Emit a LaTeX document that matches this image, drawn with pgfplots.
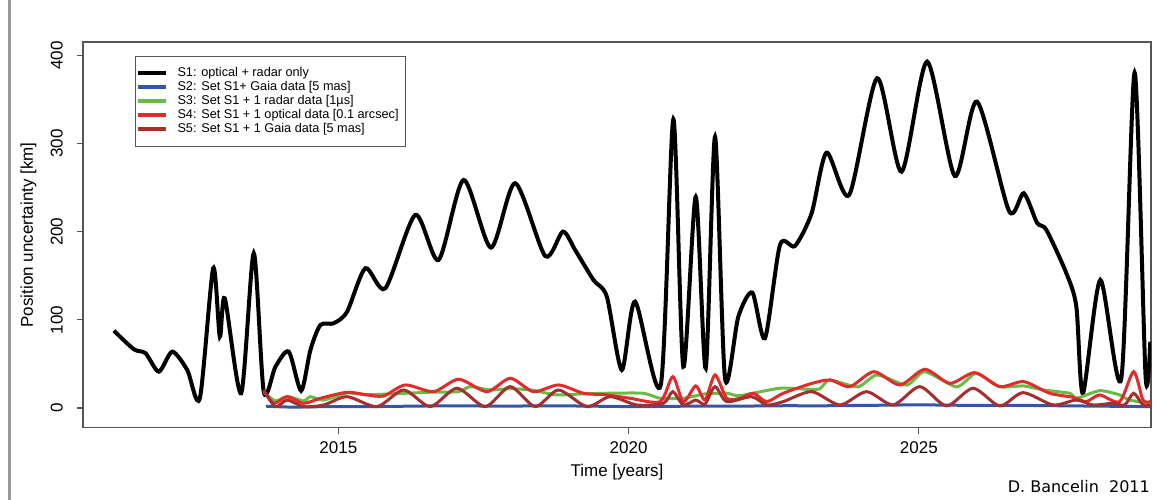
\documentclass[border=0pt]{standalone}
\usepackage{fontspec}
\setmainfont{Liberation Sans}
\newfontfamily\signfont{DejaVu Sans}
\usepackage{pgfplots}
\pgfplotsset{compat=1.18}

\definecolor{sOne}{HTML}{000000}
\definecolor{sTwo}{HTML}{3356AA}
\definecolor{sThree}{HTML}{6ABB46}
\definecolor{sFour}{HTML}{E42A2A}
\definecolor{sFive}{HTML}{A52E2E}
\definecolor{frame}{HTML}{555555}

\begin{document}
\begin{tikzpicture}
\useasboundingbox (0,0) rectangle (1157pt,500pt);
\draw[color=gray!80, line width=3.5pt] (9.5pt,0pt) -- (9.5pt,500pt);
\begin{axis}[at={(83pt,72.3pt)}, anchor=south west, scale only axis,
width=1068pt, height=385.7pt,
xmin=2010.6, xmax=2029.0, ymin=-22.4, ymax=415.4,
axis line style={frame, line width=1.3pt},
xtick={2015,2020,2025}, ytick={0,100,200,300,400},
tick align=outside, major tick length=6pt, tick style={frame, line width=1.2pt},
xtick pos=bottom, ytick pos=left,
/pgf/number format/assume math mode=true, /pgf/number format/1000 sep={},
tick label style={font=\fontsize{17}{17}\selectfont, inner sep=0pt},
xticklabel style={anchor=north}, xticklabel shift=8pt,
yticklabel style={rotate=90, anchor=south}, yticklabel shift=14pt,
xlabel={Time [years]}, ylabel={Position uncertainty [km]},
label style={font=\fontsize{17}{17}\selectfont},
xlabel style={at={(rel axis cs:0.5,0)}, anchor=center, yshift=-44.3pt},
ylabel style={at={(axis description cs:-0.051,0.5)}, anchor=center},
legend style={at={(rel axis cs:0.0487,0.9637)}, anchor=north west, draw=frame, line width=1pt,
  inner xsep=0pt, inner ysep=11pt, row sep=2pt, column sep=0pt,
  font=\fontsize{12.7}{14}\selectfont, nodes={inner ysep=0pt, inner xsep=0pt, text height=9pt, text depth=3pt}},
legend cell align=left,
legend image code/.code={\draw[#1, line width=4pt] (0pt,0pt) -- (28pt,0pt); \path (38pt,0pt);},
]
\addplot[sOne, line width=4pt, smooth, tension=0.45] coordinates {
(2011.133,87.7) (2011.477,66.6) (2011.678,62.1) (2011.907,41.2) (2012.138,63.9) (2012.396,43.1)
(2012.613,11.0) (2012.843,158.6) (2012.957,80.9) (2013.043,124.5) (2013.325,16.7) (2013.542,175.6)
(2013.714,18.5) (2013.916,46.9) (2014.145,63.9) (2014.358,19.6) (2014.518,65.8) (2014.690,94.2)
(2014.919,96.1) (2015.150,109.3) (2015.465,158.6) (2015.809,135.9) (2016.325,219.1) (2016.726,168.0)
(2017.157,258.8) (2017.628,182.0) (2018.046,255.1) (2018.563,172.5) (2018.867,200.1) (2019.079,179.3)
(2019.394,145.3) (2019.625,126.3) (2019.883,43.1) (2020.112,120.7) (2020.554,26.1) (2020.771,327.7)
(2020.943,46.9) (2021.157,239.8) (2021.329,45.1) (2021.489,307.9) (2021.661,33.7) (2021.890,103.6)
(2022.131,130.9) (2022.349,79.1) (2022.608,185.0) (2022.866,183.9) (2023.153,221.0) (2023.411,289.8)
(2023.800,241.8) (2024.282,374.2) (2024.702,268.2) (2025.143,393.1) (2025.620,263.3) (2026.003,347.7)
(2026.554,223.6) (2026.807,243.7) (2027.036,210.3) (2027.198,202.0) (2027.542,152.9) (2027.714,115.0)
(2027.828,16.7) (2028.127,145.3) (2028.489,33.7) (2028.718,380.6) (2028.907,35.5) (2028.988,75.3)
};
\addlegendentry{S1: optical + radar only}
\addplot[sTwo, line width=3pt, smooth] coordinates {
(2013.75,2) (2014.2,1) (2014.8,1.5) (2015.5,1.5) (2016.2,2) (2017,2.5) (2017.8,2) (2018.6,2.5)
(2019.4,2) (2020.2,1.5) (2021,2) (2021.8,2) (2022.6,2.5) (2023.4,2.5) (2024.2,3) (2025,3.5)
(2025.8,3) (2026.6,3) (2027.4,2.5) (2028.2,2) (2028.99,1.5)
};
\addlegendentry{S2: Set S1+ Gaia data [5 mas]}
\addplot[sThree, line width=3pt, smooth, tension=0.4] coordinates {
(2013.714,18) (2013.916,8) (2014.117,13) (2014.403,8) (2014.518,12.8) (2014.747,9) (2015.150,17)
(2015.494,15) (2016.153,16.7) (2016.640,18) (2017.071,18.5) (2017.272,24.2) (2017.616,20.4)
(2017.960,22) (2018.361,20) (2018.757,14.8) (2019.222,16) (2019.625,16.7) (2020.249,16.7)
(2020.542,11) (2020.943,11) (2021.317,16) (2021.690,16.7) (2021.919,14) (2022.608,22.4)
(2023.124,21) (2023.300,22) (2023.468,31.8) (2023.950,24) (2024.282,37.5) (2024.790,26)
(2025.103,41.2) (2025.650,24) (2025.990,39.3) (2026.394,24.2) (2026.807,25) (2027.150,20.4)
(2027.600,16.7) (2027.714,11) (2028.115,19.6) (2028.460,14.8) (2028.630,9) (2028.988,5)
};
\addlegendentry{S3: Set S1 + 1 radar data [1µs]}
\addplot[sFour, line width=3pt, smooth, tension=0.45] coordinates {
(2013.714,20.4) (2013.886,5.3) (2014.117,12.8) (2014.403,5.3) (2014.690,11) (2015.150,17.8)
(2015.494,14.8) (2015.780,13.6) (2016.153,26.1) (2016.640,18.5) (2017.071,32.6) (2017.559,18.5)
(2017.960,33.7) (2018.361,18.5) (2018.792,26.1) (2019.222,16.7) (2019.625,14.8) (2020.026,11)
(2020.542,7.2) (2020.761,35.5) (2020.943,7) (2021.157,25) (2021.317,9) (2021.489,37.5)
(2021.690,11) (2021.919,11) (2022.148,16.7) (2022.379,7.2) (2022.664,16.7) (2023.124,27.2)
(2023.468,31.8) (2023.812,24.2) (2024.225,41.2) (2024.673,26.1) (2025.103,43.9) (2025.534,28)
(2025.964,40.1) (2026.394,24.2) (2026.807,29.9) (2027.255,16.7) (2027.656,12.1) (2027.886,7.2)
(2028.115,14.8) (2028.460,7.2) (2028.701,41.2) (2028.861,9.1) (2028.988,7.2)
};
\addlegendentry{S4: Set S1 + 1 optical data [0.1 arcsec]\hspace*{7pt}}
\addplot[sFive, line width=3pt, smooth, tension=0.45] coordinates {
(2013.714,20) (2013.916,1.5) (2014.117,9) (2014.403,1.5) (2014.747,3.4) (2015.150,12.8)
(2015.666,1.5) (2016.124,20.4) (2016.583,1.5) (2017.043,22.4) (2017.530,1.5) (2017.960,24.2)
(2018.391,1.5) (2018.792,20.4) (2019.281,1.5) (2019.682,12.8) (2020.141,3.4) (2020.599,5.3)
(2020.761,18.5) (2020.943,3.4) (2021.157,9) (2021.317,4.5) (2021.489,24.2) (2021.690,7.2)
(2022.120,12.8) (2022.379,3.4) (2022.664,7.2) (2023.153,18.5) (2023.640,3.4) (2024.100,18.5)
(2024.558,3.4) (2025.017,24.2) (2025.477,2.3) (2025.935,22.4) (2026.394,2.3) (2026.795,17.4)
(2027.312,3.4) (2027.714,9) (2028.000,3.4) (2028.344,5.3) (2028.546,3.4) (2028.701,16.7)
(2028.861,3.4) (2028.988,3.4)
};
\addlegendentry{S5: Set S1 + 1 Gaia data [5 mas]}
\end{axis}
\node[anchor=east, inner sep=0pt, font=\signfont\fontsize{16}{16}\selectfont] at (1150pt,13pt) {D. Bancelin\ \ 2011};
\end{tikzpicture}
\end{document}
